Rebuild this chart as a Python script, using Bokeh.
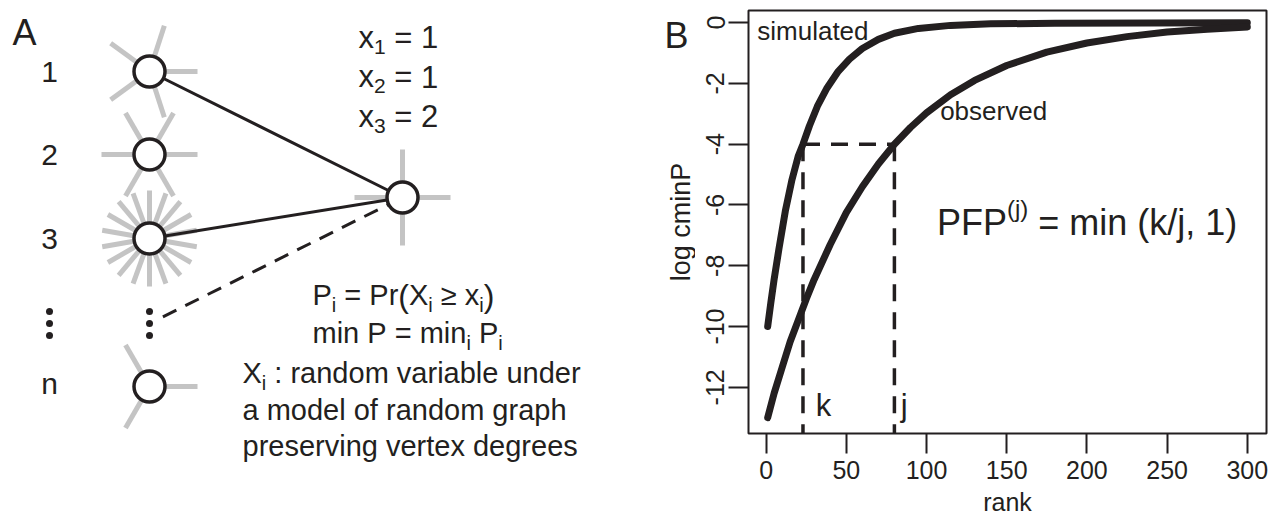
import math
from bokeh.plotting import figure
from bokeh.layouts import row
from bokeh.models import FixedTicker, Range1d, ColumnDataSource
from bokeh.embed import file_html
from bokeh.resources import INLINE
from bokeh.core.properties import value

INK = "#231f20"
GRAY = "#c4c4c4"
FONT = "Liberation Sans"
BASE_FIX = 0.36   # em offset so that given y values act as true alphabetic baselines

# ---------------- Panel B data ----------------
sim_rank = [1, 3, 5, 8, 12, 16, 20, 23, 27, 32, 38, 45, 52, 60, 70, 80, 95, 115, 140, 180, 240, 300]
sim_logp = [-10.0, -9.2, -8.45, -7.45, -6.2, -5.2, -4.4, -4.0, -3.4, -2.75, -2.15, -1.6, -1.2,
            -0.85, -0.55, -0.35, -0.19, -0.09, -0.04, -0.02, -0.01, 0.0]
obs_rank = [1, 5, 10, 15, 20, 25, 30, 40, 50, 60, 70, 80, 90, 100, 115, 130, 150, 175, 200, 225, 250, 275, 300]
obs_logp = [-13.0, -12.2, -11.35, -10.5, -9.8, -9.1, -8.45, -7.3, -6.25, -5.4, -4.65, -4.0, -3.45,
            -2.97, -2.37, -1.9, -1.41, -0.97, -0.67, -0.46, -0.31, -0.22, -0.14]
k_rank = 23
j_rank = 80
cut_logp = -4
x_ticks = [0, 50, 100, 150, 200, 250, 300]
x_tick_labels = ["0", "50", "100", "150", "200", "250", "300"]
y_ticks = [0, -2, -4, -6, -8, -10, -12]
y_tick_labels = ["0", "-2", "-4", "-6", "-8", "-10", "-12"]
x_title = "rank"
y_title = "log cminP"

# ---------------- Panel A data ----------------
row_labels = ["1", "2", "3", "n"]
row_y = [71, 154, 238, 386]
node_col_x = 149
label_col_x = 49
node_spoke_angles = [
    [0, 72, 144, 216, 288],
    [0, 60, 120, 180, 240, 300],
    [10, 30, 50, 70, 90, 110, 130, 150, 170, 190, 210, 230, 250, 270, 290, 310, 330, 350],
    [0, 120, 240],
]
target_xy = (402, 197)
target_spoke_angles = [0, 90, 180, 270]
ellipsis_y = [311, 323, 335]
solid_edge_rows = [0, 2]
obs_names = ["1", "2", "3"]
obs_values = ["1", "1", "2"]

# ---------------- text metrics helper (Arial/Liberation Sans advance widths) ----------------
W = {' ': 278, '(': 333, ')': 333, ',': 278, '/': 278, ':': 278, '=': 584, '\u2265': 549,
     'A': 667, 'B': 667, 'F': 611, 'P': 667, 'X': 667,
     'a': 556, 'b': 556, 'c': 500, 'd': 556, 'e': 556, 'f': 278, 'g': 556, 'h': 556, 'i': 222,
     'j': 222, 'k': 500, 'l': 222, 'm': 833, 'n': 556, 'o': 556, 'p': 556, 'r': 333, 's': 500,
     't': 278, 'u': 556, 'v': 500, 'x': 500, 'y': 500}


def tw(s, size):
    return sum(W.get(c, 556) for c in s) * size / 1000.0


def pieces_source(x0, y0, pieces, ux=1.0, uy=1.0):
    xs, ys, ts, fs = [], [], [], []
    cur = x0
    for t, size, dy in pieces:
        lead = t[:len(t) - len(t.lstrip(' '))]
        core = t.strip(' ')
        if core:
            xs.append(cur + tw(lead, size) * ux)
            ys.append(y0 + (dy - BASE_FIX * size) * uy)
            ts.append(core)
            fs.append(f"{size}px")
        cur += tw(t, size) * ux
    return ColumnDataSource(dict(x=xs, y=ys, text=ts, fs=fs))


def draw_pieces(p, src, align="left"):
    p.text(x="x", y="y", text="text", text_font_size="fs", source=src, text_font=value(FONT),
           text_color=INK, text_align=align, text_baseline="alphabetic")


# panel B geometry (pixels)
PA_W = 695
B_LEFT, B_RIGHT, B_TOP, B_BOTTOM = 53, 16, 10, 89
PB_W, PB_H = 1282 - PA_W, 522
FW, FH = PB_W - B_LEFT - B_RIGHT, PB_H - B_TOP - B_BOTTOM
XR = (-10.96, 311.96)
YR = (-13.52, 0.4)

# ================= Panel A =================
pA = figure(width=PA_W, height=522, x_range=Range1d(0, PA_W), y_range=Range1d(522, 0),
            x_axis_type=None, y_axis_type=None, output_backend="svg", toolbar_location=None,
            min_border=0, outline_line_color=None)
pA.frame_align = False
pA.grid.visible = False

SPOKE = 48
sx0, sy0, sx1, sy1 = [], [], [], []
for ny, angs in zip(row_y, node_spoke_angles):
    for a in angs:
        r = math.radians(a)
        sx0.append(node_col_x); sy0.append(ny)
        sx1.append(node_col_x + SPOKE * math.cos(r)); sy1.append(ny - SPOKE * math.sin(r))
for a in target_spoke_angles:
    r = math.radians(a)
    sx0.append(target_xy[0]); sy0.append(target_xy[1])
    sx1.append(target_xy[0] + SPOKE * math.cos(r)); sy1.append(target_xy[1] - SPOKE * math.sin(r))
pA.segment(sx0, sy0, sx1, sy1, line_color=GRAY, line_width=5)

# edges
ex0 = [node_col_x for i in solid_edge_rows]
ey0 = [row_y[i] for i in solid_edge_rows]
pA.segment(ex0, ey0, [target_xy[0]] * len(ex0), [target_xy[1]] * len(ex0),
           line_color=INK, line_width=3)
mid = ellipsis_y[1]
dx, dy = target_xy[0] - node_col_x, target_xy[1] - mid
d = math.hypot(dx, dy)
pA.line([node_col_x + 15 * dx / d, target_xy[0]], [mid + 15 * dy / d, target_xy[1]],
        line_color=INK, line_width=3, line_dash="15 10")

# nodes
pA.scatter([node_col_x] * len(row_y) + [target_xy[0]], row_y + [target_xy[1]], size=31,
           marker="circle", fill_color="white", line_color=INK, line_width=3.5)
# vertical ellipses
pA.scatter([node_col_x] * 3 + [label_col_x] * 3, ellipsis_y * 2, size=7, marker="circle",
           fill_color=INK, line_color=None)

# row labels
for t, y in zip(row_labels, row_y):
    draw_pieces(pA, pieces_source(label_col_x, y + (8 if t == "n" else 11), [(t, 30, 0)]), align="center")
# panel letters
draw_pieces(pA, pieces_source(24, 45, [("A", 36, 0)]), align="center")
draw_pieces(pA, pieces_source(676, 48, [("B", 36, 0)]), align="center")
# y-axis title of panel B (sits in the strip left of panel B's tick labels)
pA.text([680], [B_TOP + FH / 2], text=[y_title], text_font=value(FONT), text_font_size=value("27px"),
        text_color=INK, text_align="center", text_baseline="middle", angle=math.pi / 2)

# observed values x_i
for k, (nm, vl) in enumerate(zip(obs_names, obs_values)):
    draw_pieces(pA, pieces_source(358, 48 + 39.5 * k,
                                  [("x", 31, 0), (nm, 21, 6), (" = ", 31, 0), (vl, 31, 0)]))

# formulas
draw_pieces(pA, pieces_source(312, 305, [("P", 29, 0), ("i", 20, 7), (" = ", 29, 0), ("Pr", 29, 0),
                                         ("(", 32, 2), ("X", 29, 0), ("i", 20, 7), (" \u2265 ", 29, 0),
                                         ("x", 29, 0), ("i", 20, 7), (")", 32, 2)]))
draw_pieces(pA, pieces_source(312, 343, [("min P", 29, 0), (" = ", 29, 0), ("min", 29, 0), ("i", 20, 7),
                                         (" P", 29, 0), ("i", 20, 7)]))
draw_pieces(pA, pieces_source(242, 383, [("X", 29, 0), ("i", 20, 7), (" : random variable under", 29, 0)]))
draw_pieces(pA, pieces_source(242, 420, [("a model of random graph", 29, 0)]))
draw_pieces(pA, pieces_source(242, 456, [("preserving vertex degrees", 29, 0)]))

# ================= Panel B =================
pB = figure(width=PB_W, height=PB_H, x_range=Range1d(*XR), y_range=Range1d(*YR),
            output_backend="svg", toolbar_location=None,
            min_border_left=B_LEFT, min_border_right=B_RIGHT, min_border_top=B_TOP,
            min_border_bottom=B_BOTTOM, outline_line_color=INK, outline_line_width=2)
pB.frame_align = False
pB.grid.visible = False
ux = (XR[1] - XR[0]) / FW      # data units per px (x)
uy = -(YR[1] - YR[0]) / FH     # data units per px downward (y)

for ax in (pB.xaxis[0], pB.yaxis[0]):
    ax.axis_line_color = None
    ax.major_tick_line_color = INK
    ax.major_tick_line_width = 2
    ax.major_tick_out = 20
    ax.major_tick_in = 0
    ax.minor_tick_line_color = None
    ax.major_label_text_font = FONT
    ax.major_label_text_font_size = "25px"
    ax.major_label_text_color = INK
    ax.axis_label_text_font = FONT
    ax.axis_label_text_font_size = "25px"
    ax.axis_label_text_font_style = "normal"
    ax.axis_label_text_color = INK

pB.xaxis.ticker = FixedTicker(ticks=x_ticks)
pB.xaxis.major_label_overrides = {t: s for t, s in zip(x_ticks, x_tick_labels)}
pB.xaxis.major_label_standoff = 7
pB.xaxis.axis_label = x_title
pB.xaxis.axis_label_standoff = 6
pB.yaxis.ticker = FixedTicker(ticks=y_ticks)
pB.yaxis.major_label_overrides = {t: s for t, s in zip(y_ticks, y_tick_labels)}
pB.yaxis.major_label_orientation = "vertical"
pB.yaxis.major_label_standoff = 4

# dashed guides
pB.line([k_rank, j_rank], [cut_logp, cut_logp], line_color=INK, line_width=3.5, line_dash="17 11")
pB.segment([k_rank, j_rank], [cut_logp, cut_logp], [k_rank, j_rank], [YR[0], YR[0]],
           line_color=INK, line_width=3.5, line_dash="17 11")

# curves
pB.line(sim_rank, sim_logp, line_color=INK, line_width=7, line_cap="round", line_join="round")
pB.line(obs_rank, obs_logp, line_color=INK, line_width=7, line_cap="round", line_join="round")

# curve names and rank markers
draw_pieces(pB, pieces_source(-5.5, -0.59, [("simulated", 26, 0)], ux=ux, uy=uy))
draw_pieces(pB, pieces_source(108.5, -3.22, [("observed", 26, 0)], ux=ux, uy=uy))
draw_pieces(pB, pieces_source(k_rank + 8, -12.98, [("k", 31, 0)], ux=ux, uy=uy))
draw_pieces(pB, pieces_source(j_rank + 4, -12.98, [("j", 31, 0)], ux=ux, uy=uy))

# PFP formula
draw_pieces(pB, pieces_source(106.5, -7.0,
                              [("PFP", 36, 0), ("(j)", 24, -18), (" = ", 36, 0),
                               ("min", 36, 0), (" (k/j, 1)", 36, 0)], ux=ux, uy=uy))

layout = row(pA, pB, spacing=0)
open("out.html", "w").write(file_html(layout, INLINE))
